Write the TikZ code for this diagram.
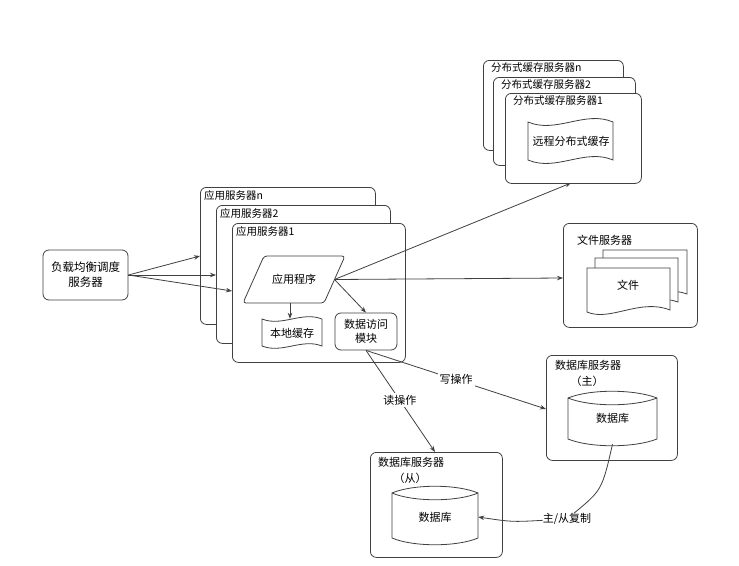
\documentclass[tikz,border=0pt]{standalone}
\usepackage{fontspec}
\setmainfont{Noto Sans CJK SC}
\usetikzlibrary{arrows.meta}
\begin{document}
\begin{tikzpicture}[x=1pt,y=-1pt,
  ln/.style={draw=black!75, line width=0.8pt},
  box/.style={ln, rounded corners=6pt, fill=white},
  arr/.style={ln, -{Stealth[length=6pt,width=4.5pt]}},
  txt/.style={font=\fontsize{11}{14}\selectfont, inner sep=0pt},
  ttl/.style={font=\fontsize{10.5}{13}\selectfont, inner sep=0pt, anchor=west},
  lbl/.style={txt, fill=white, inner sep=2pt}]
\useasboundingbox[fill=white] (0,0) rectangle (739,565);

% load balancer
\node[box, txt, font=\fontsize{11.5}{15}\selectfont, align=center, minimum width=85, minimum height=50] (lb) at (85.5,275) {负载均衡调度\\服务器};

% application servers
\node[box, anchor=north west, minimum width=175, minimum height=137] (appn) at (200,187) {};
\node[ttl] (appnt) at (204,196) {应用服务器n};
\node[box, anchor=north west, minimum width=174, minimum height=138] (app2) at (216,205) {};
\node[ttl] (app2t) at (220,214) {应用服务器2};
\node[box, anchor=north west, minimum width=173, minimum height=139] (app1) at (232,223) {};
\node[ttl] (app1t) at (236,232) {应用服务器1};

\coordinate (e1) at (200,256);
\coordinate (e2) at (216,275);
\coordinate (e3) at (232,291);
\draw[arr] (lb.east) -- (e1);
\draw[arr] (lb.east) -- (e2);
\draw[arr] (lb.east) -- (e3);

% application program (parallelogram)
\draw[ln, fill=white, rounded corners=3pt] (243,303) -- (264,256) -- (345,256) -- (324,303) -- cycle;
\node[txt] (prog) at (294,279) {应用程序};
\coordinate (ar) at (334.5,279.5);
\coordinate (ab) at (290,303);

% local cache (tape)
\node[txt, minimum width=60, minimum height=27] (lc) at (292,332.5) {};
\draw[ln, fill=white] (262,319) .. controls (282,327) and (302,311) .. (322,319) -- (322,346) .. controls (302,338) and (282,354) .. (262,346) -- cycle;
\node[txt] (lct) at (292,333) {本地缓存};
\draw[arr] (ab) -- (lc.north -| ab);

% data access module
\node[box, txt, align=center, minimum width=62, minimum height=37] (dam) at (366,331.5) {数据访问\\模块};
\draw[arr] (ar) -- (dam.north);

% distributed cache servers
\node[box, anchor=north west, minimum width=140, minimum height=90] (dcn) at (483,60) {};
\node[ttl] (dcnt) at (491,68) {分布式缓存服务器n};
\node[box, anchor=north west, minimum width=142, minimum height=88] (dc2) at (493,77) {};
\node[ttl] (dc2t) at (501,85) {分布式缓存服务器2};
\node[box, anchor=north west, minimum width=136, minimum height=90] (dc1) at (505,93) {};
\node[ttl] (dc1t) at (513,101) {分布式缓存服务器1};
\draw[ln, fill=white] (528,122) .. controls (556,134) and (585,110) .. (613,122) -- (613,160) .. controls (585,148) and (556,172) .. (528,160) -- cycle;
\node[txt] (rc) at (571,141) {远程分布式缓存};
\coordinate (dcin) at (571,183);
\draw[arr] (ar) -- (dcin);

% file server
\node[box, anchor=north west, minimum width=134, minimum height=104] (fs) at (563,223) {};
\node[txt, anchor=west] (fst) at (577,240) {文件服务器};
\draw[ln, fill=white] (603,250) -- (687,250) -- (687,294) .. controls (660,284) and (630,304) .. (603,296) -- cycle;
\draw[ln, fill=white] (595,258) -- (678,258) -- (678,302) .. controls (650,292) and (622,312) .. (595,304) -- cycle;
\draw[ln, fill=white] (587,268) -- (670,268) -- (670,310) .. controls (640,298) and (610,322) .. (587,312) -- cycle;
\node[txt] (file) at (628,285) {文件};
\coordinate (fsin) at (563,278);
\draw[arr] (ar) -- (fsin);

% master database server
\node[box, anchor=north west, minimum width=131, minimum height=105] (mdbs) at (546,355) {};
\node[txt, anchor=west] (mdbst) at (555,365) {数据库服务器};
\node[txt] (mdbsz) at (587,381) {（主）};
\draw[ln, fill=white] (568,398) .. controls (590,389) and (634,389) .. (657,398) -- (657,439) .. controls (634,448) and (590,448) .. (568,439) -- cycle;
\draw[ln] (568,398) .. controls (590,407) and (634,407) .. (657,398);
\node[txt, minimum width=89, minimum height=52] (mdb) at (612.5,418) {数据库};

% slave database server
\node[box, anchor=north west, minimum width=132, minimum height=105] (sdbs) at (370,452) {};
\node[txt, anchor=west] (sdbst) at (378,462) {数据库服务器};
\node[txt] (sdbsz) at (410,478) {（从）};
\draw[ln, fill=white] (392,493) .. controls (413,484) and (457,484) .. (478,493) -- (478,538) .. controls (457,547) and (413,547) .. (392,538) -- cycle;
\draw[ln] (392,493) .. controls (413,502) and (457,502) .. (478,493);
\node[txt, minimum width=86, minimum height=52] (sdb) at (435,517) {数据库};

% read / write
\coordinate (wr) at (546,409);
\coordinate (rd) at (435,452);
\draw[arr] (dam.south) -- node[lbl, pos=0.5] (wlab) {写操作} (wr);
\draw[arr] (dam.south) -- node[lbl, pos=0.49] (rlab) {读操作} (rd);

% replication
\node[txt] (rep) at (567,519) {主/从复制};
\draw[arr] (mdb.south) .. controls (602,490) .. (rep) .. controls (512,522) .. (sdb.east);
\end{tikzpicture}
\end{document}
